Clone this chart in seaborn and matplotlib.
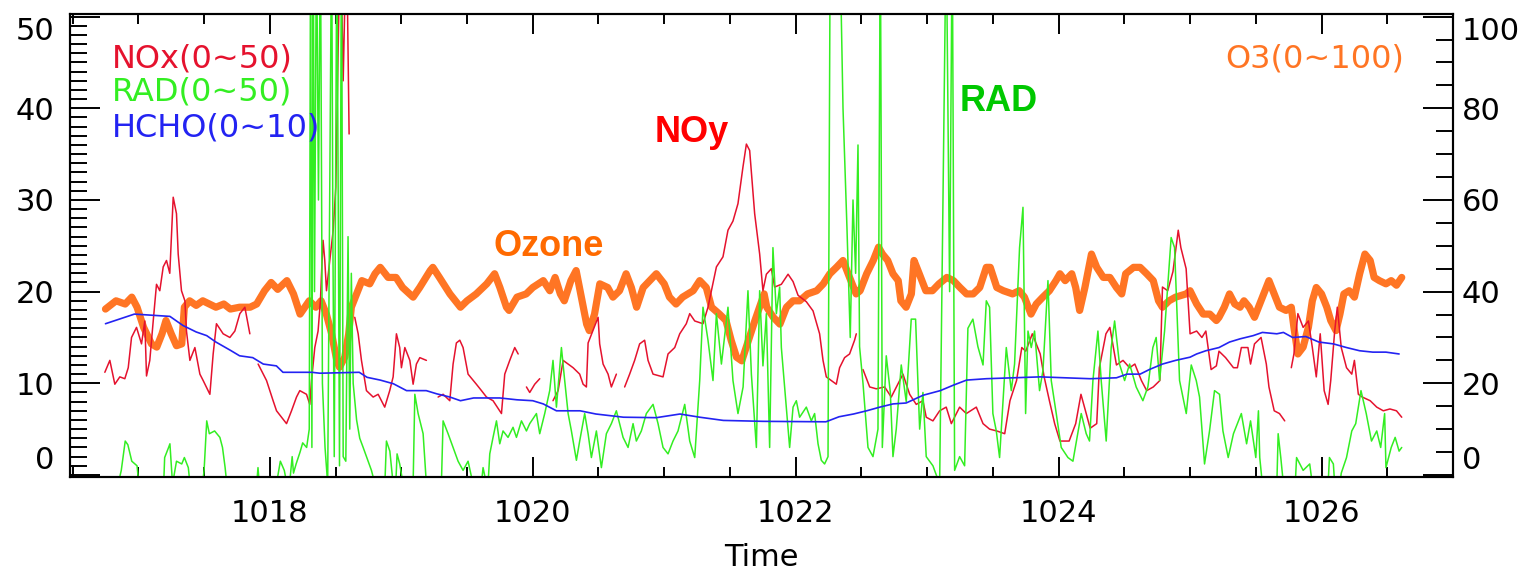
import numpy as np
import pandas as pd
import matplotlib
matplotlib.use("Agg")
import matplotlib.pyplot as plt
from matplotlib.ticker import MultipleLocator
import seaborn as sns

nan = np.nan

# ---------------- data ----------------
nox_t = [1016.745, 1016.783, 1016.821, 1016.859, 1016.897, 1016.923, 1016.948, 1016.986, 1017.024, 1017.049,
         1017.062, 1017.087, 1017.113, 1017.138, 1017.163, 1017.189, 1017.214, 1017.239, 1017.265, 1017.290,
         1017.303, 1017.328, 1017.354, 1017.366, 1017.392, 1017.430, 1017.468, 1017.493, 1017.544, 1017.569,
         1017.594, 1017.645, 1017.696, 1017.734, 1017.772, 1017.810, 1017.848, 1017.880, 1017.911, 1017.975,
         1018.025, 1018.051, 1018.127, 1018.165, 1018.203, 1018.228, 1018.279, 1018.304, 1018.317, 1018.342,
         1018.367, 1018.385, 1018.393, 1018.405, 1018.418, 1018.431, 1018.456, 1018.482, 1018.502, 1018.520,
         1018.537, 1018.558, 1018.583, 1018.603, 1018.620, 1018.646, 1018.672, 1018.697, 1018.735, 1018.786,
         1018.824, 1018.874, 1018.912, 1018.938, 1018.963, 1018.988, 1019.001, 1019.027, 1019.065, 1019.090,
         1019.115, 1019.141, 1019.191, 1019.230, 1019.280, 1019.318, 1019.369, 1019.394, 1019.419, 1019.445,
         1019.470, 1019.508, 1019.571, 1019.610, 1019.648, 1019.698, 1019.762, 1019.787, 1019.825, 1019.863,
         1019.889, 1019.920, 1019.952, 1019.977, 1020.015, 1020.053, 1020.100, 1020.154, 1020.193, 1020.231,
         1020.269, 1020.307, 1020.357, 1020.383, 1020.408, 1020.421, 1020.497, 1020.509, 1020.535, 1020.573,
         1020.598, 1020.636, 1020.660, 1020.699, 1020.737, 1020.775, 1020.813, 1020.851, 1020.877, 1020.915,
         1020.991, 1021.029, 1021.080, 1021.118, 1021.168, 1021.194, 1021.232, 1021.295, 1021.333, 1021.359,
         1021.397, 1021.447, 1021.485, 1021.523, 1021.561, 1021.599, 1021.625, 1021.650, 1021.688, 1021.726,
         1021.751, 1021.777, 1021.815, 1021.840, 1021.891, 1021.942, 1021.980, 1022.018, 1022.081, 1022.132,
         1022.182, 1022.208, 1022.233, 1022.271, 1022.309, 1022.334, 1022.372, 1022.410, 1022.448, 1022.461,
         1022.490, 1022.512, 1022.563, 1022.613, 1022.677, 1022.727, 1022.816, 1022.867, 1022.917, 1022.968,
         1022.993, 1023.044, 1023.095, 1023.145, 1023.184, 1023.247, 1023.298, 1023.374, 1023.425, 1023.475,
         1023.53, 1023.59, 1023.63, 1023.68, 1023.72, 1023.75, 1023.80, 1023.86, 1023.89, 1023.93,
         1023.97, 1024.01, 1024.08, 1024.13, 1024.17, 1024.21, 1024.24, 1024.29, 1024.31, 1024.36,
         1024.39, 1024.44, 1024.49, 1024.54, 1024.58, 1024.63, 1024.67, 1024.72, 1024.77, 1024.79,
         1024.83, 1024.87, 1024.91, 1024.93, 1024.97, 1025.00, 1025.05, 1025.09, 1025.12, 1025.16,
         1025.20, 1025.22, 1025.27, 1025.33, 1025.36, 1025.39, 1025.44, 1025.46, 1025.49, 1025.54,
         1025.58, 1025.60, 1025.64, 1025.68, 1025.72, 1025.745, 1025.77, 1025.79, 1025.82, 1025.86,
         1025.90, 1025.93, 1025.96, 1025.99, 1026.02, 1026.05, 1026.07, 1026.10, 1026.12, 1026.15,
         1026.19, 1026.23, 1026.25, 1026.28, 1026.31, 1026.37, 1026.42, 1026.47, 1026.52, 1026.57,
         1026.61]
nox_v = [11.2, 12.5, 9.9, 10.7, 10.5, 11.7, 15.0, 16.1, 14.3, 16.8,
         10.8, 12.5, 16.8, 20.8, 20.1, 22.7, 23.4, 22.0, 30.3, 28.5,
         24.1, 20.1, 19.0, 15.7, 12.5, 13.9, 11.0, 10.3, 8.8, 13.2,
         16.5, 15.4, 15.0, 15.7, 17.6, 18.3, 15.4, nan, 12.1, 10.3,
         8.1, 7.0, 5.6, 7.0, 8.5, 9.2, 8.8, 7.7, 10.3, 13.9,
         15.7, 19.0, 21.9, 25.6, 23.4, 20.1, 23.4, 26.7, 31.4, 46.7,
         60.0, 43.0, 60.0, 37.2, nan, 17.2, 15.4, 12.5, 9.2, 8.5,
         8.8, 7.4, 9.2, 10.7, 15.4, 13.9, 11.7, 13.9, 12.5, 9.9,
         12.1, 12.8, 12.5, nan, 8.5, 8.8, 8.1, 12.1, 14.4, 14.7,
         13.9, 11.0, 9.9, 9.2, 8.5, 8.1, 6.7, 11.0, 12.5, 13.9,
         13.2, nan, 9.6, 9.0, 9.9, 10.5, nan, 8.1, 9.2, 12.5,
         12.1, 11.7, 11.0, 9.9, 9.6, 14.4, 17.2, 14.3, 12.1, 11.0,
         9.6, 11.0, nan, 9.6, 11.0, 12.5, 14.3, 14.7, 12.5, 11.0,
         10.7, 13.2, 13.9, 15.4, 16.5, 17.6, 16.8, 16.5, 18.3, 20.1,
         22.7, 23.8, 26.7, 27.7, 29.6, 33.6, 36.1, 35.4, 28.5, 24.1,
         20.1, 21.9, 22.5, 20.5, 20.8, 21.9, 21.1, 19.6, 18.9, 17.9,
         15.4, 12.5, 10.7, 10.3, 9.9, 11.7, 12.8, 13.2, 14.7, 15.4,
         nan, 11.5, 9.6, 9.4, 9.6, 8.5, 11.0, 8.8, 7.7, 8.1,
         6.3, 5.9, 7.0, 7.4, 5.6, 7.4, 6.7, 7.4, 5.6, 5.0,
         4.8, 4.5, 8.1, 10.3, 13.9, 13.5, 15.4, 13.2, 10.7, 8.1,
         5.6, 3.7, 3.7, 5.6, 8.8, 6.7, 5.1, 5.6, 11.7, 15.4,
         16.1, 12.0, 12.5, 11.7, 12.1, 10.3, 9.2, 9.6, 10.3, 20.5,
         20.1, 22.2, 26.7, 24.8, 22.5, 15.4, 15.7, 15.0, 15.7, 11.5,
         11.9, 13.5, 12.8, 11.7, 11.7, 13.9, 13.9, 12.1, 14.3, 15.0,
         12.1, 9.6, 7.0, 6.7, 5.9, nan, 11.7, 13.2, 17.6, 16.1,
         16.8, 13.9, 10.7, 15.4, 9.2, 7.7, 10.3, 15.7, 18.3, 13.9,
         11.7, 11.0, 12.5, 8.8, 8.5, 8.1, 7.4, 7.0, 7.2, 7.0,
         6.3]

rad_t = [1016.83, 1016.87, 1016.90, 1016.92, 1016.95, 1016.99, 1017.01, 1017.19, 1017.20, 1017.23,
         1017.24, 1017.26, 1017.29, 1017.33, 1017.35, 1017.38, 1017.40, 1017.48, 1017.50, 1017.52,
         1017.54, 1017.58, 1017.62, 1017.64, 1017.66, 1017.68, 1017.90, 1017.91, 1017.92, 1018.05,
         1018.08, 1018.11, 1018.13, 1018.15, 1018.17, 1018.18, 1018.20, 1018.23, 1018.25, 1018.28,
         1018.30, 1018.31, 1018.32, 1018.33, 1018.34, 1018.355, 1018.37, 1018.385, 1018.40, 1018.42,
         1018.44, 1018.47, 1018.48, 1018.49, 1018.51, 1018.53, 1018.545, 1018.558, 1018.578, 1018.595,
         1018.608, 1018.62, 1018.634, 1018.66, 1018.684, 1018.71, 1018.735, 1018.773, 1018.80, 1018.875,
         1018.887, 1018.913, 1018.938, 1018.958, 1018.968, 1018.988, 1019.014, 1019.09, 1019.103, 1019.128,
         1019.166, 1019.191, 1019.305, 1019.318, 1019.356, 1019.394, 1019.432, 1019.47, 1019.508, 1019.546,
         1019.609, 1019.622, 1019.648, 1019.66, 1019.673, 1019.698, 1019.724, 1019.749, 1019.774, 1019.812,
         1019.85, 1019.876, 1019.914, 1019.952, 1019.977, 1020.028, 1020.053, 1020.091, 1020.129, 1020.154,
         1020.18, 1020.218, 1020.243, 1020.269, 1020.294, 1020.332, 1020.357, 1020.395, 1020.421, 1020.446,
         1020.484, 1020.522, 1020.56, 1020.598, 1020.636, 1020.687, 1020.725, 1020.763, 1020.788, 1020.826,
         1020.864, 1020.915, 1020.953, 1020.991, 1021.029, 1021.067, 1021.105, 1021.156, 1021.194, 1021.232,
         1021.27, 1021.295, 1021.333, 1021.371, 1021.397, 1021.435, 1021.485, 1021.523, 1021.561, 1021.60,
         1021.637, 1021.663, 1021.701, 1021.726, 1021.751, 1021.777, 1021.802, 1021.827, 1021.853, 1021.878,
         1021.891, 1021.954, 1021.98, 1022.005, 1022.03, 1022.081, 1022.119, 1022.144, 1022.17, 1022.195,
         1022.22, 1022.246, 1022.263, 1022.334, 1022.36, 1022.39, 1022.415, 1022.436, 1022.456, 1022.474,
         1022.486, 1022.512, 1022.55, 1022.588, 1022.626, 1022.644, 1022.659, 1022.689, 1022.72, 1022.74,
         1022.765, 1022.803, 1022.841, 1022.879, 1022.912, 1022.943, 1022.968, 1022.993, 1023.044, 1023.095,
         1023.145, 1023.171, 1023.191, 1023.209, 1023.247, 1023.285, 1023.31, 1023.348, 1023.386, 1023.425,
         1023.45, 1023.475, 1023.50, 1023.526, 1023.551, 1023.602, 1023.64, 1023.665, 1023.703, 1023.729,
         1023.749, 1023.767, 1023.792, 1023.817, 1023.855, 1023.881, 1023.919, 1023.944, 1023.982, 1024.02,
         1024.071, 1024.109, 1024.172, 1024.21, 1024.235, 1024.261, 1024.299, 1024.324, 1024.362, 1024.40,
         1024.426, 1024.463, 1024.502, 1024.54, 1024.59, 1024.641, 1024.679, 1024.717, 1024.742, 1024.768,
         1024.806, 1024.856, 1024.882, 1024.92, 1024.971, 1025.009, 1025.047, 1025.072, 1025.11, 1025.148,
         1025.186, 1025.224, 1025.25, 1025.29, 1025.33, 1025.36, 1025.39, 1025.43, 1025.46, 1025.50,
         1025.52, 1025.53, 1025.55, 1025.66, 1025.67, 1025.69, 1025.71, 1025.80, 1025.81, 1025.86,
         1025.91, 1025.93, 1026.05, 1026.06, 1026.09, 1026.10, 1026.14, 1026.15, 1026.19, 1026.23,
         1026.26, 1026.30, 1026.34, 1026.38, 1026.42, 1026.45, 1026.48, 1026.49, 1026.53, 1026.56,
         1026.59, 1026.61]
rad_v = [-2, 0.5, 3.7, 3.3, 1.5, 1.0, -2, -2, 1.9, 3.0,
         3.4, -1, 1.5, 1.2, 1.9, 0.8, -2, -2, 0.5, 5.9,
         4.5, 4.8, 4.1, 3.0, 0.8, -2, -1, 0.8, -1, -1,
         1.5, 0.5, -1, -1, 2.0, 0.2, 1.2, 2.5, 3.5, 3.0,
         5.0, 60, 3, 60, 20, 60, 30, 60, 10, 3,
         -1, 60, 25, 2, 60, 1, 60, 2, 1.5, 26,
         5, 22, 10, 6, 4, 3, 2, 0.5, -1, -1,
         3.7, 2.6, -1, -1, 2.3, 1.2, -1, -1, 8.8, 6.7,
         4.5, -1, -1, 5.9, 4.5, 3.0, 1.5, 0.5, 1.5, -1,
         -1, 0.8, -1, -1, 2.3, 4.1, 5.9, 3.4, 4.8, 4.1,
         5.2, 4.1, 5.9, 4.8, 5.6, 6.7, 4.5, 6.7, 9.2, 12.5,
         7.4, 13.9, 10.3, 6.7, 4.8, 1.6, 3.7, 6.7, 4.5, 1.9,
         4.8, 0.8, 4.5, 5.6, 7.0, 4.1, 3.0, 5.6, 3.7, 4.8,
         6.7, 7.7, 5.6, 3.0, 2.3, 3.7, 4.8, 7.7, 3.7, 1.9,
         10.3, 18.3, 14.7, 10.3, 17.6, 12.1, 18.3, 10.3, 6.7, 9.6,
         20.1, 11.0, 3.0, 20.1, 11.9, 17.6, 3.0, 24.8, 17.6, 20.5,
         13.9, 3.0, 7.4, 8.1, 6.3, 7.4, 5.9, 6.7, 3.4, 1.6,
         1.2, 2.0, 60, 60, 40, 27, 15, 30, 22, 36,
         14, 10, 3, 2, 5, 60, 3, 13, 9, 2,
         5, 12, 8, 17, 17, 5, 9, 2, 1, -1,
         60, 20, 60, 0.5, 2, 1, 16, 17, 14, 12,
         19, 18.3, 6.7, 4.8, 1.9, 13.9, 9.2, 12.1, 24.8, 29.2,
         6.7, 15.7, 13.9, 15.7, 9.2, 11.4, 21.2, 10.3, 6.7, 3.0,
         1.9, 1.5, 6.7, 4.5, 3.7, 10.3, 15.7, 10.3, 3.7, 13.9,
         16.8, 12.1, 10.3, 12.1, 9.6, 8.1, 9.6, 13.9, 15.0, 10.3,
         15.7, 25.9, 24.8, 10.3, 6.7, 12.0, 10.3, 8.5, 1.2, 4.8,
         9.2, 8.8, 4.8, 1.9, 4.5, 5.6, 6.7, 3.4, 5.9, 1.9,
         7.0, 1.9, -1, -1, 4.5, 1.9, -1, -1, 1.9, 0.5,
         1.2, -1, -1, 1.9, 1.2, -1, -1, 0.2, 1.9, 4.8,
         5.6, 9.2, 6.7, 3.7, 4.8, 3.0, 6.7, 0.8, 3.0, 4.1,
         2.6, 3.0]

hcho_t = [1016.75, 1016.97, 1017.24, 1017.34, 1017.44, 1017.52, 1017.59, 1017.70, 1017.77, 1017.87,
          1017.95, 1018.05, 1018.10, 1018.20, 1018.32, 1018.38, 1018.68, 1018.74, 1018.84, 1018.94,
          1019.04, 1019.19, 1019.27, 1019.37, 1019.45, 1019.55, 1019.75, 1019.88, 1020.00, 1020.08,
          1020.18, 1020.36, 1020.48, 1020.69, 1020.94, 1021.12, 1021.27, 1021.45, 1021.75, 1022.23,
          1022.33, 1022.44, 1022.54, 1022.64, 1022.74, 1022.84, 1022.97, 1023.10, 1023.20, 1023.30,
          1023.45, 1023.86, 1024.24, 1024.44, 1024.52, 1024.62, 1024.69, 1024.79, 1024.89, 1025.00,
          1025.05, 1025.12, 1025.22, 1025.30, 1025.38, 1025.48, 1025.55, 1025.66, 1025.71, 1025.78,
          1025.88, 1025.98, 1026.09, 1026.19, 1026.29, 1026.39, 1026.49, 1026.59]
hcho_v = [3.30, 3.51, 3.46, 3.26, 3.12, 3.04, 2.90, 2.72, 2.60, 2.56,
          2.42, 2.38, 2.24, 2.24, 2.24, 2.22, 2.24, 2.13, 2.07, 1.99,
          1.84, 1.84, 1.77, 1.70, 1.62, 1.68, 1.68, 1.64, 1.62, 1.55,
          1.40, 1.40, 1.33, 1.26, 1.25, 1.33, 1.26, 1.19, 1.17, 1.16,
          1.27, 1.33, 1.40, 1.48, 1.55, 1.57, 1.74, 1.84, 1.96, 2.07,
          2.10, 2.14, 2.10, 2.12, 2.20, 2.20, 2.30, 2.42, 2.50, 2.57,
          2.64, 2.71, 2.78, 2.90, 2.97, 3.04, 3.11, 3.08, 3.11, 3.00,
          3.02, 2.90, 2.86, 2.78, 2.71, 2.68, 2.68, 2.64]

o3_t = [1016.75, 1016.83, 1016.90, 1016.95, 1016.99, 1017.04, 1017.10, 1017.14, 1017.18, 1017.21,
        1017.25, 1017.29, 1017.33, 1017.35, 1017.39, 1017.44, 1017.49, 1017.54, 1017.59, 1017.65,
        1017.70, 1017.77, 1017.85, 1017.90, 1017.96, 1018.01, 1018.06, 1018.13, 1018.18, 1018.23,
        1018.30, 1018.35, 1018.39, 1018.43, 1018.47, 1018.51, 1018.53, 1018.57, 1018.60, 1018.62,
        1018.66, 1018.70, 1018.76, 1018.80, 1018.84, 1018.90, 1018.96, 1019.01, 1019.09, 1019.14,
        1019.22, 1019.24, 1019.29, 1019.37, 1019.45, 1019.50, 1019.57, 1019.65, 1019.71, 1019.75,
        1019.80, 1019.82, 1019.88, 1019.95, 1020.00, 1020.08, 1020.13, 1020.17, 1020.21, 1020.24,
        1020.29, 1020.33, 1020.37, 1020.41, 1020.43, 1020.47, 1020.51, 1020.57, 1020.61, 1020.66,
        1020.71, 1020.75, 1020.79, 1020.84, 1020.89, 1020.94, 1021.00, 1021.04, 1021.09, 1021.14,
        1021.22, 1021.27, 1021.32, 1021.36, 1021.42, 1021.47, 1021.51, 1021.55, 1021.59, 1021.64,
        1021.69, 1021.76, 1021.78, 1021.83, 1021.88, 1021.93, 1021.98, 1022.03, 1022.09, 1022.16,
        1022.21, 1022.26, 1022.31, 1022.36, 1022.41, 1022.46, 1022.49, 1022.54, 1022.59, 1022.63,
        1022.66, 1022.70, 1022.74, 1022.78, 1022.80, 1022.84, 1022.88, 1022.90, 1022.94, 1022.99,
        1023.04, 1023.09, 1023.15, 1023.20, 1023.25, 1023.30, 1023.35, 1023.40, 1023.45, 1023.48,
        1023.53, 1023.58, 1023.65, 1023.70, 1023.74, 1023.77, 1023.79, 1023.83, 1023.88, 1023.93,
        1023.98, 1024.01, 1024.05, 1024.10, 1024.13, 1024.16, 1024.20, 1024.25, 1024.29, 1024.34,
        1024.39, 1024.44, 1024.48, 1024.51, 1024.57, 1024.62, 1024.67, 1024.72, 1024.76, 1024.79,
        1024.84, 1024.89, 1024.97, 1025.00, 1025.05, 1025.10, 1025.15, 1025.20, 1025.22, 1025.26,
        1025.30, 1025.34, 1025.38, 1025.41, 1025.45, 1025.49, 1025.53, 1025.57, 1025.60, 1025.64,
        1025.68, 1025.73, 1025.77, 1025.79, 1025.82, 1025.86, 1025.90, 1025.93, 1025.96, 1026.00,
        1026.04, 1026.07, 1026.11, 1026.14, 1026.17, 1026.21, 1026.25, 1026.29, 1026.33, 1026.37,
        1026.40, 1026.44, 1026.49, 1026.53, 1026.57, 1026.61]
o3_v = [36.2, 38.0, 37.3, 38.8, 36.6, 32.2, 28.6, 27.9, 30.8, 33.7,
        30.8, 28.2, 28.6, 36.6, 38.0, 37.0, 38.0, 37.3, 36.6, 37.3,
        36.2, 36.6, 36.6, 37.3, 40.2, 42.0, 40.5, 42.4, 39.5, 35.1,
        38.0, 36.6, 38.0, 35.1, 30.8, 24.9, 23.5, 25.7, 30.8, 36.6,
        39.5, 42.4, 41.7, 43.9, 45.3, 43.1, 43.1, 40.9, 38.8, 40.9,
        44.6, 45.3, 43.1, 39.5, 36.6, 38.0, 39.5, 41.7, 43.9, 40.9,
        36.6, 35.9, 38.8, 39.5, 40.9, 42.4, 40.2, 43.1, 39.5, 38.0,
        42.4, 44.6, 38.8, 32.9, 31.5, 35.1, 41.7, 40.9, 38.8, 40.2,
        43.9, 40.9, 36.6, 40.9, 42.4, 43.9, 41.7, 38.8, 37.3, 38.8,
        40.2, 42.4, 40.9, 36.6, 35.1, 33.7, 29.3, 25.7, 24.9, 29.3,
        33.7, 39.5, 36.6, 34.4, 32.9, 36.6, 38.0, 38.0, 39.5, 40.2,
        41.7, 43.9, 45.3, 46.8, 43.1, 39.5, 40.2, 43.9, 46.8, 49.7,
        48.2, 46.8, 43.9, 42.4, 38.0, 36.6, 39.5, 46.8, 43.9, 40.2,
        40.2, 41.7, 43.1, 42.4, 40.9, 39.5, 39.5, 40.9, 45.3, 45.3,
        40.9, 40.2, 39.5, 40.2, 38.8, 36.6, 35.1, 37.3, 38.8, 40.2,
        42.4, 43.9, 42.4, 43.9, 40.9, 35.9, 40.9, 48.2, 45.3, 43.1,
        43.1, 40.9, 39.5, 43.9, 45.3, 45.3, 43.9, 42.4, 38.0, 36.6,
        38.0, 38.8, 39.5, 40.2, 37.3, 35.1, 35.1, 33.7, 34.4, 36.6,
        39.5, 37.3, 36.6, 38.0, 36.6, 34.4, 37.3, 40.2, 42.4, 39.5,
        36.6, 35.9, 36.6, 32.2, 26.4, 27.9, 32.2, 38.0, 40.9, 39.5,
        36.6, 33.7, 31.5, 35.1, 39.5, 40.2, 38.8, 43.9, 48.2, 46.8,
        43.1, 42.4, 41.7, 42.4, 41.4, 43.1]

x_ticks = [1018, 1020, 1022, 1024, 1026]
left_ticks = [0, 10, 20, 30, 40, 50]
right_ticks = [0, 20, 40, 60, 80, 100]
legend_labels = ["NOx(0~50)", "RAD(0~50)", "HCHO(0~10)"]
o3_label = "O3(0~100)"
hcho_scale = 5.0  # HCHO 0~10 drawn on the 0~50 axis

C_RED = "#e5122e"
C_GREEN = "#33ee22"
C_BLUE = "#2323f2"
C_ORANGE = "#ff7524"


def frame(t, v):
    df = pd.DataFrame({"t": t, "v": v})
    df["seg"] = df["v"].isna().cumsum()
    return df.dropna().reset_index(drop=True)


sns.set_theme(style="white")
plt.rcParams["font.family"] = ["DejaVu Sans"]

fig = plt.figure(figsize=(15.19, 5.71), dpi=100)
ax = fig.add_axes([70 / 1519, (571 - 476.7) / 571, 1383 / 1519, 462.7 / 571])
ax2 = ax.twinx()
ax.set_zorder(ax2.get_zorder() + 1)
ax.patch.set_visible(False)

o3_df = frame(o3_t, o3_v)
sns.lineplot(data=o3_df, x="t", y="v", units="seg", estimator=None, sort=False,
             ax=ax2, color=C_ORANGE, lw=5.2, legend=False)

nox_df = frame(nox_t, nox_v)
sns.lineplot(data=nox_df, x="t", y="v", units="seg", estimator=None, sort=False,
             ax=ax, color=C_RED, lw=1.1, legend=False)
rad_df = frame(rad_t, rad_v)
sns.lineplot(data=rad_df, x="t", y="v", units="seg", estimator=None, sort=False,
             ax=ax, color=C_GREEN, lw=1.1, legend=False)
hcho_df = frame(hcho_t, list(np.array(hcho_v) * hcho_scale))
sns.lineplot(data=hcho_df, x="t", y="v", units="seg", estimator=None, sort=False,
             ax=ax, color=C_BLUE, lw=1.2, legend=False)

ax.set_xlim(1016.48, 1027.0)
ax.set_ylim(-0.19, 50.29)
ax2.set_ylim(-0.38, 100.58)

ax.set_xticks(x_ticks)
ax.set_xticklabels([str(v) for v in x_ticks])
ax.xaxis.set_minor_locator(MultipleLocator(0.5))
ax.set_yticks(left_ticks)
ax.set_yticklabels([str(v) for v in left_ticks])
ax.yaxis.set_minor_locator(MultipleLocator(1))
ax2.set_yticks(right_ticks)
ax2.set_yticklabels([str(v) for v in right_ticks])
ax2.yaxis.set_minor_locator(MultipleLocator(5))

ax.tick_params(axis="x", which="both", direction="in", top=True, bottom=True,
               width=1.4, color="black", labelsize=22, pad=16, labelcolor="black")
ax.tick_params(axis="x", which="major", length=14.5)
ax.tick_params(axis="x", which="minor", length=7)
ax.tick_params(axis="y", which="both", direction="in", left=True, right=False,
               width=1.4, color="black", labelsize=22, pad=11, labelcolor="black")
ax.tick_params(axis="y", which="major", length=21.6)
ax.tick_params(axis="y", which="minor", length=12.2)
ax2.tick_params(axis="y", which="both", direction="in", right=True, left=False,
                width=1.4, color="black", labelsize=22, pad=6.5, labelcolor="black")
ax2.tick_params(axis="y", which="major", length=21.6)
ax2.tick_params(axis="y", which="minor", length=12.2)

for a in (ax, ax2):
    for s in a.spines.values():
        s.set_color("black")
        s.set_linewidth(1.5)
        s.set_visible(True)

for a, ticks in ((ax, left_ticks), (ax2, right_ticks)):
    for tk, val in zip(a.yaxis.get_major_ticks(), ticks):
        if val == ticks[0]:
            tk.label1.set_va("bottom")
            tk.label2.set_va("bottom")
        elif val == ticks[-1]:
            tk.label1.set_va("top")
            tk.label2.set_va("top")

ax.set_xlabel("Time", fontsize=22, color="black", labelpad=10.5)
ax.set_ylabel("")
ax2.set_ylabel("")

# legend-like labels
leg_colors = [C_RED, C_GREEN, C_BLUE]
leg_y = [44.5, 40.9, 36.9]
for lab, col, yy in zip(legend_labels, leg_colors, leg_y):
    ax.text(1016.80, yy, lab, color=col, fontsize=23, va="baseline", ha="left")
ax.text(1026.63, 44.4, o3_label, color=C_ORANGE, fontsize=23, va="baseline", ha="right")

# annotations
bold = dict(family=["Liberation Sans", "DejaVu Sans"], fontweight="bold", fontsize=26)
ax.text(1020.93, 36.3, "NOy", color="#ff0000", va="baseline", ha="left", **bold)
ax.text(1023.25, 39.7, "RAD", color="#00c800", va="baseline", ha="left", **bold)
ax.text(1019.70, 23.9, "Ozone", color="#ff6a00", va="baseline", ha="left", **bold)

fig.savefig("out.png", dpi=100)
